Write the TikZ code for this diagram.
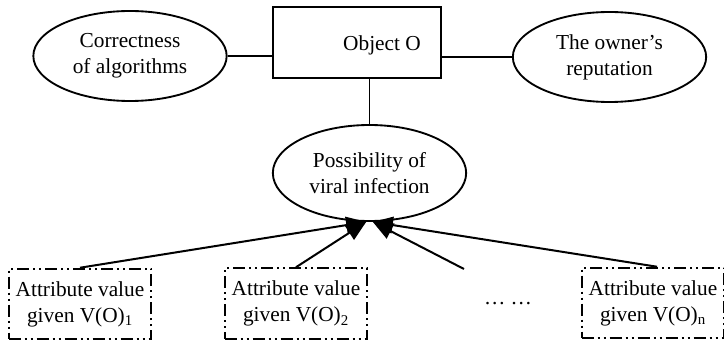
\documentclass[tikz,border=0pt]{standalone}
\usepackage{fontspec}
\setmainfont{Liberation Serif}
\usetikzlibrary{positioning,arrows.meta,shapes.geometric}

\begin{document}
\begin{tikzpicture}[
    x=0.75pt, y=-0.75pt,
    font=\fontsize{16}{19.5}\selectfont,
    oval/.style={draw, ellipse, line width=1.4pt, inner sep=0pt, minimum width=145pt, minimum height=67.5pt, align=center},
    objbox/.style={draw, rectangle, line width=1.4pt, minimum width=126pt, minimum height=53pt},
    attrbox/.style={draw, rectangle, line width=1.4pt, dash pattern=on 9pt off 3pt on 1.5pt off 3pt on 1.5pt off 3pt, minimum width=107pt, minimum height=53pt, align=center, inner sep=0pt},
    link/.style={line width=1.4pt},
    arr/.style={-{Triangle[length=15pt, width=12.5pt]}, line width=1.5pt}
]
    \useasboundingbox (0,0) rectangle (724,342);

    % Object and the three things it depends on
    \node[objbox] (obj) at (357,42.5) {};
    \node[xshift=18.75pt, yshift=-2pt] (objlbl) at (obj.center) {Object O};
    \node[oval] (corr) at (130,56) {Correctness\\of algorithms};
    \node[oval] (owner) at (609.5,57) {The owner's\\reputation};
    \node[oval, minimum height=72pt] (poss) at (369.5,173) {Possibility of\\viral infection};

    % Attribute values
    \node[attrbox] (attr1) at (80,304) {Attribute value\\given V(O)\textsubscript{1}};
    \node[attrbox] (attr2) at (296,303.5) {Attribute value\\given V(O)\textsubscript{2}};
    \node (dots) at (508,304) {… …};
    \node[attrbox] (attrn) at (653,303) {Attribute value\\given V(O)\textsubscript{n}};
    \coordinate (free) at (464,269);

    % Connections
    \draw[link] (corr.east) -- (obj.west |- corr.east);
    \draw[link] (owner.west) -- (obj.east |- owner.west);
    \draw[link] (poss.north) -- (poss.north |- obj.south);

    \coordinate (tipl) at ([xshift=-2.5pt]poss.south);
    \coordinate (tipr) at ([xshift=2.5pt]poss.south);
    \draw[arr] (attr1.north) -- (tipl);
    \draw[arr] (attr2.north) -- (tipl);
    \draw[arr] (free) -- (tipr);
    \draw[arr] ([xshift=3pt]attrn.north) -- (tipr);
\end{tikzpicture}
\end{document}
